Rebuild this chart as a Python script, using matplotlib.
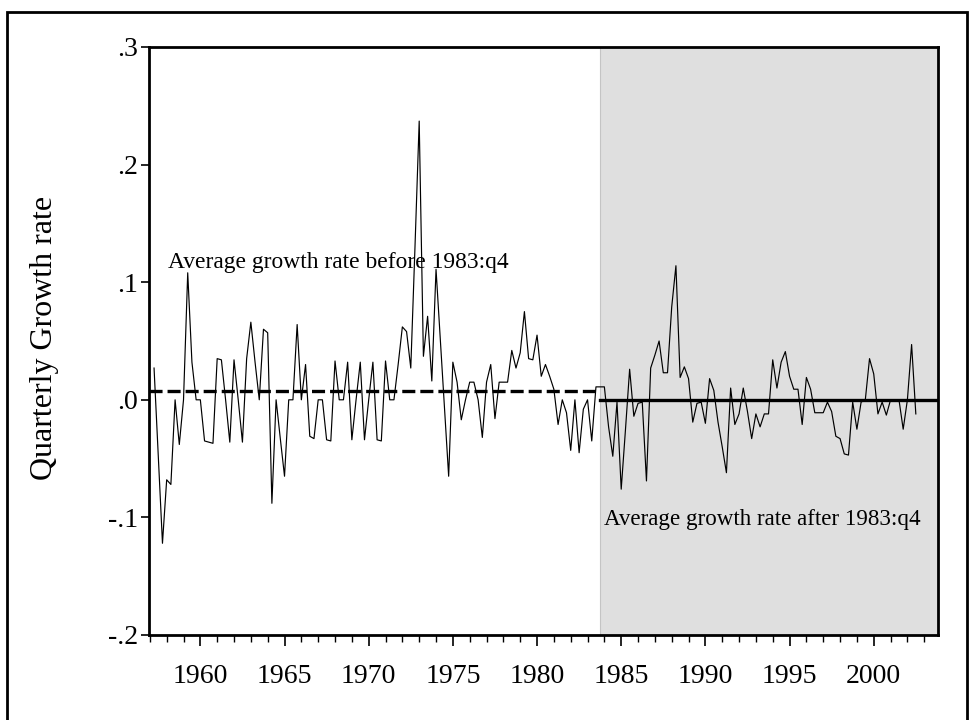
import matplotlib
matplotlib.use('Agg')
import matplotlib.pyplot as plt
import numpy as np
import pandas as pd
from matplotlib.ticker import MultipleLocator, FixedLocator, FixedFormatter
from matplotlib.patches import Rectangle

# ---------------- data ----------------
first_quarter = '1957Q2'
growth = [
    0.027, -0.047, -0.122, -0.068, -0.072, 0.0, -0.038, 0.0, 0.108, 0.032,
    0.0, 0.0, -0.035, -0.036, -0.037, 0.035, 0.034, 0.0, -0.036, 0.034,
    0.0, -0.036, 0.035, 0.066, 0.032, 0.0, 0.060, 0.057, -0.088, 0.0,
    -0.033, -0.065, 0.0, 0.0, 0.064,
    0.0, 0.030, -0.031, -0.033, 0.0, 0.0, -0.034, -0.035, 0.033, 0.0,
    0.0, 0.032, -0.034, 0.0, 0.032, -0.034, 0.0, 0.032, -0.034, -0.035,
    0.033, 0.0, 0.0, 0.030, 0.062, 0.058, 0.027, 0.130, 0.237, 0.037,
    0.071, 0.016, 0.111, 0.052, -0.006, -0.065, 0.032, 0.015,
    -0.017, 0.0, 0.015, 0.015, 0.0, -0.032, 0.015, 0.030, -0.016, 0.015,
    0.015, 0.015, 0.042, 0.027, 0.040, 0.075, 0.035, 0.034, 0.055, 0.020,
    0.030, 0.020, 0.009, -0.021, 0.0, -0.011, -0.043, 0.0, -0.045, -0.008,
    0.0, -0.035, 0.011, 0.011, 0.011,
    -0.023, -0.048, -0.002, -0.076, -0.026, 0.026, -0.014, -0.003, -0.002, -0.069,
    0.027, 0.038, 0.050, 0.023, 0.023, 0.079, 0.114, 0.019, 0.028, 0.018,
    -0.019, -0.003, -0.002, -0.020, 0.018, 0.008, -0.019, -0.040, -0.062, 0.010,
    -0.021, -0.012, 0.010, -0.010, -0.033, -0.012, -0.023, -0.012, -0.012, 0.034,
    0.010, 0.032, 0.041, 0.020, 0.009, 0.009, -0.021, 0.019, 0.009, -0.011,
    -0.011, -0.011, -0.002, -0.010, -0.031, -0.033, -0.046, -0.047, -0.002, -0.025,
    -0.002, 0.0, 0.035, 0.022, -0.012, -0.002, -0.013, 0.0, 0.0, 0.0,
    -0.025, 0.0, 0.047, -0.012,
]
break_year = 1983.75
avg_before = 0.0078
avg_after = -0.0005
x_range = (1956.95, 2003.8)
y_range = (-0.2, 0.3)
year_ticks = [1960, 1965, 1970, 1975, 1980, 1985, 1990, 1995, 2000]
y_ticks = [-0.2, -0.1, 0.0, 0.1, 0.2, 0.3]
y_tick_labels = ['-.2', '-.1', '.0', '.1', '.2', '.3']
label_before = 'Average growth rate before 1983:q4'
label_after = 'Average growth rate after 1983:q4'
y_title = 'Quarterly Growth rate'

# ---------------- figure ----------------
periods = pd.period_range(first_quarter, periods=len(growth), freq='Q')
t = np.asarray(periods.year + (periods.quarter - 1) / 4.0, dtype=float)

plt.rcParams['font.family'] = ['Liberation Serif', 'DejaVu Serif']
plt.rcParams['lines.scale_dashes'] = False

W, H = 973, 720
fig = plt.figure(figsize=(W / 100, H / 100), dpi=100)
ax = fig.add_axes([149 / W, 1 - 635 / H, (937.7 - 149) / W, (635 - 47) / H])

ax.axvspan(break_year, x_range[1], color='#dfdfdf', lw=0, zorder=0)
ax.axvline(break_year, color='#c4c4c4', lw=0.8, zorder=0.5)
ax.plot(t, growth, color='black', lw=0.85, zorder=3)
ax.plot([x_range[0], break_year], [avg_before, avg_before], color='black',
        lw=2.4, linestyle=(0, (9.4, 3.6)), solid_capstyle='butt', zorder=2)
ax.plot([break_year, x_range[1]], [avg_after, avg_after], color='black',
        lw=2.4, zorder=2)

ax.text(1958.08, 0.112, label_before, fontsize=16.9, ha='left', va='baseline')
ax.text(1984.0, -0.1065, label_after, fontsize=16.6, ha='left', va='baseline')

ax.set_xlim(*x_range)
ax.set_ylim(*y_range)
ax.xaxis.set_major_locator(FixedLocator(year_ticks))
ax.xaxis.set_minor_locator(MultipleLocator(1))
ax.yaxis.set_major_locator(FixedLocator(y_ticks))
ax.yaxis.set_major_formatter(FixedFormatter(y_tick_labels))
ax.tick_params(axis='x', which='major', direction='out', length=8, width=1.2,
               labelsize=20, pad=13)
ax.tick_params(axis='x', which='minor', direction='out', length=5, width=1.0)
ax.tick_params(axis='y', which='major', direction='out', length=6, width=1.2,
               labelsize=20, pad=2)
ax.tick_params(top=False, right=False)
for s in ax.spines.values():
    s.set_linewidth(2.0)

fig.text(45 / W, 1 - 338 / H, y_title, rotation=90, fontsize=23,
         ha='center', va='center')

fig.patches.append(Rectangle((7 / W, -0.05), (967 - 7) / W, 1.05 - 12 / H,
                             transform=fig.transFigure, fill=False,
                             lw=2.0, ec='black'))

fig.savefig('out.png', dpi=100)
